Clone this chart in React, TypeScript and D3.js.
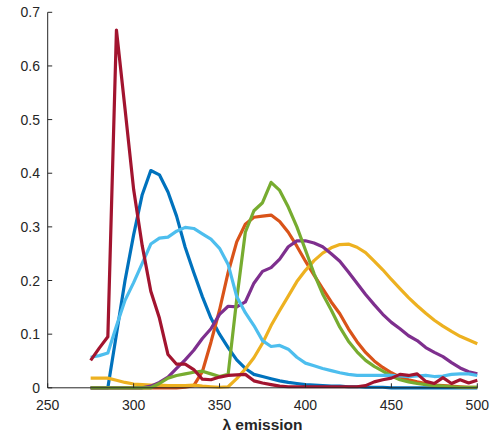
import React from "react";
import * as d3 from "d3";

const wavelengths: number[] = d3.range(275, 501, 5);

const blue = [0, 0, 0, 0.1, 0.2, 0.285, 0.36, 0.405, 0.397, 0.365, 0.32, 0.262, 0.215, 0.17, 0.13, 0.1, 0.075, 0.052, 0.036, 0.025, 0.021, 0.017, 0.013, 0.01, 0.008, 0.006, 0.005, 0.004, 0.003, 0.003, 0.002, 0.002, 0.001, 0.001, 0.001, 0, 0, 0, 0, 0, 0, 0, 0, 0, 0, 0];
const orange = [0, 0, 0, 0, 0, 0, 0, 0, 0, 0, 0, 0.001, 0.004, 0.03, 0.085, 0.145, 0.215, 0.272, 0.305, 0.318, 0.32, 0.322, 0.31, 0.29, 0.264, 0.236, 0.21, 0.185, 0.16, 0.138, 0.11, 0.086, 0.066, 0.05, 0.038, 0.028, 0.02, 0.015, 0.011, 0.008, 0.005, 0.004, 0.003, 0.002, 0.001, 0.001];
const yellow = [0.018, 0.018, 0.018, 0.014, 0.01, 0.007, 0.006, 0.005, 0.005, 0.004, 0.004, 0.004, 0.005, 0.003, 0.002, 0.001, 0.002, 0.017, 0.035, 0.056, 0.083, 0.116, 0.144, 0.171, 0.198, 0.219, 0.237, 0.251, 0.261, 0.267, 0.268, 0.262, 0.252, 0.236, 0.22, 0.202, 0.185, 0.168, 0.153, 0.139, 0.126, 0.115, 0.105, 0.096, 0.089, 0.082];
const purple = [0, 0, 0, 0, 0, 0, 0, 0.003, 0.01, 0.02, 0.036, 0.052, 0.07, 0.092, 0.11, 0.137, 0.152, 0.151, 0.16, 0.195, 0.217, 0.224, 0.24, 0.263, 0.274, 0.274, 0.27, 0.263, 0.25, 0.236, 0.216, 0.195, 0.174, 0.155, 0.137, 0.122, 0.11, 0.097, 0.088, 0.075, 0.066, 0.058, 0.047, 0.037, 0.03, 0.026];
const green = [0, 0, 0, 0, 0, 0, 0, 0, 0.008, 0.018, 0.023, 0.026, 0.029, 0.031, 0.026, 0.021, 0.025, 0.165, 0.29, 0.33, 0.345, 0.383, 0.368, 0.337, 0.3, 0.257, 0.213, 0.175, 0.145, 0.113, 0.087, 0.067, 0.051, 0.04, 0.031, 0.022, 0.015, 0.011, 0.008, 0.006, 0.004, 0.003, 0.002, 0.001, 0.001, 0.001];
const lightBlue = [0.057, 0.06, 0.065, 0.115, 0.163, 0.196, 0.232, 0.268, 0.279, 0.281, 0.292, 0.299, 0.297, 0.287, 0.277, 0.26, 0.23, 0.17, 0.14, 0.116, 0.088, 0.077, 0.079, 0.072, 0.057, 0.046, 0.041, 0.036, 0.032, 0.028, 0.025, 0.023, 0.023, 0.023, 0.023, 0.023, 0.022, 0.021, 0.022, 0.023, 0.021, 0.022, 0.025, 0.026, 0.026, 0.023];
const darkRed = [0.051, 0.074, 0.095, 0.667, 0.52, 0.37, 0.265, 0.18, 0.13, 0.062, 0.044, 0.044, 0.034, 0.016, 0.015, 0.02, 0.023, 0.024, 0.025, 0.013, 0.009, 0.006, 0.003, 0.002, 0.002, 0.002, 0.002, 0.002, 0.002, 0.002, 0.002, 0.002, 0.004, 0.011, 0.015, 0.018, 0.025, 0.023, 0.026, 0.012, 0.008, 0.019, 0.008, 0.015, 0.009, 0.014];

const seriesList = [blue, orange, yellow, purple, green, lightBlue, darkRed];
const colors = ["#0072BD", "#D95319", "#EDB120", "#7E2F8E", "#77AC30", "#4DBEEE", "#A2142F"];

const xTicks = [250, 300, 350, 400, 450, 500];
const yTicks = [0, 0.1, 0.2, 0.3, 0.4, 0.5, 0.6, 0.7];
const xLabel = "λ emission";

export default function App() {
  const W = 494, H = 436;
  const x = d3.scaleLinear().domain([250, 500]).range([47.7, 477.3]);
  const y = d3.scaleLinear().domain([0, 0.7]).range([387.8, 12.3]);
  const line = d3
    .line<number>()
    .x((_, i) => x(wavelengths[i]))
    .y((d) => y(d));
  const axisColor = "#262626";
  const font = "'Liberation Sans', Arial, Helvetica, sans-serif";
  const x0 = x.range()[0], x1 = x.range()[1];
  const yb = y.range()[0], yt = y.range()[1];
  return (
    <svg
      width={W}
      height={H}
      style={{ position: "absolute", left: 0, top: 0, background: "#fff" }}
      fontFamily={font}
    >
      <rect x={0} y={0} width={W} height={H} fill="#fff" />
      {seriesList.map((s, i) => (
        <path
          key={i}
          d={line(s) || ""}
          fill="none"
          stroke={colors[i]}
          strokeWidth={3.2}
          strokeLinejoin="round"
          strokeLinecap="butt"
        />
      ))}
      <line x1={x0} x2={x1} y1={yb} y2={yb} stroke={axisColor} strokeWidth={1} />
      <line x1={x0} x2={x0} y1={yb} y2={yt} stroke={axisColor} strokeWidth={1} />
      {xTicks.map((t) => (
        <g key={"x" + t}>
          <line x1={x(t)} x2={x(t)} y1={yb} y2={yb - 4.5} stroke={axisColor} strokeWidth={1} />
          <text x={x(t)} y={410} textAnchor="middle" fontSize={14} fill={axisColor}>
            {t}
          </text>
        </g>
      ))}
      {yTicks.map((t) => (
        <g key={"y" + t}>
          <line x1={x0} x2={x0 + 4.5} y1={y(t)} y2={y(t)} stroke={axisColor} strokeWidth={1} />
          <text x={40} y={y(t)} dy="0.36em" textAnchor="end" fontSize={14} fill={axisColor}>
            {t === 0 ? "0" : t.toFixed(1)}
          </text>
        </g>
      ))}
      <text x={262.5} y={430} textAnchor="middle" fontSize={15.5} fontWeight="bold" fill={axisColor}>
        {xLabel}
      </text>
    </svg>
  );
}
